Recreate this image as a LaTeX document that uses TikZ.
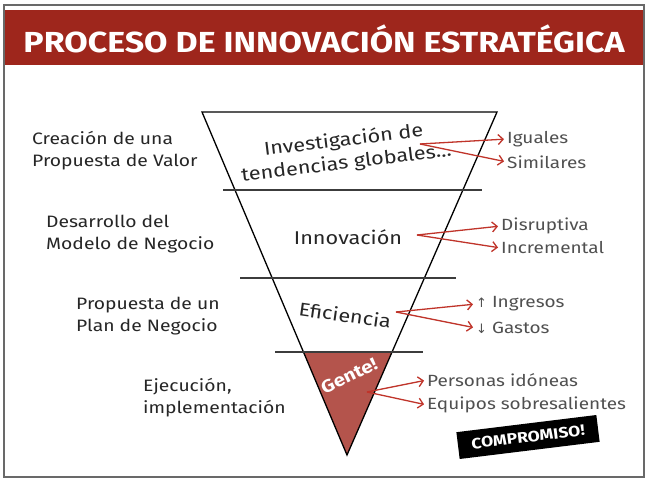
\documentclass[tikz,border=0pt]{standalone}
\usepackage{fontspec}
\setmainfont[FakeStretch=1.17]{Fira Sans}
\newfontfamily\symfont{DejaVu Sans}
\usetikzlibrary{arrows.meta}
\definecolor{banner}{RGB}{158,38,28}
\definecolor{gente}{RGB}{180,84,76}
\definecolor{arrowred}{RGB}{192,52,42}
\definecolor{graytext}{RGB}{80,80,80}
\definecolor{framegray}{RGB}{105,105,105}
\definecolor{sepgray}{RGB}{60,60,60}
\tikzset{
  txt/.style={inner sep=0pt, font=\fontsize{16.5}{22}\selectfont, text=black!85},
  lefttxt/.style={txt, anchor=west, align=left},
  midtxt/.style={inner sep=0pt, align=center, text=black!85, font=\fontsize{18.5}{23}\selectfont},
  righttxt/.style={inner sep=0pt, anchor=west, font=\fontsize{16.2}{22}\selectfont, text=graytext},
  redarrow/.style={draw=arrowred, line width=1.3pt, -{Straight Barb[length=5pt,width=10pt]}, shorten >=3pt},
  seprule/.style={draw=sepgray, line width=1.3pt},
  titletxt/.style={inner sep=0pt, text=white, font=\fontsize{29}{32}\selectfont\bfseries},
  stamp/.style={fill=black, text=white, font=\fontsize{15}{18}\selectfont\bfseries, inner xsep=10pt, inner ysep=6pt, minimum width=141pt, minimum height=27pt}
}
\begin{document}
\begin{tikzpicture}[x=1pt,y=-1pt]
\useasboundingbox (0,0) rectangle (655,484);
\fill[white] (0,0) rectangle (655,484);
\draw[framegray, line width=1.6pt] (4,5) rectangle (644,477);
% banner
\fill[banner] (5,10) rectangle (643,65);
\node[titletxt] (title) at (324,39) {PROCESO DE INNOVACIÓN ESTRATÉGICA};
% triangle
\coordinate (tl) at (202,112);
\coordinate (tr) at (497,112);
\coordinate (bt) at (347,455);
\fill[gente] (303.5,352) -- (392,352) -- (bt) -- cycle;
\draw[line width=1.3pt, line join=miter] (tl) -- (tr) -- (bt) -- cycle;
% separators
\draw[seprule] (223,190) -- (482,190);
\draw[seprule] (240,278) -- (456,278);
\draw[seprule] (275,352) -- (423,352);
% left labels
\node[lefttxt] (l1) at (32,151) {Creación de una\\Propuesta de Valor};
\node[lefttxt] (l2) at (46,234) {Desarrollo del\\Modelo de Negocio};
\node[lefttxt] (l3) at (76,316) {Propuesta de un\\Plan de Negocio};
\node[lefttxt] (l4) at (143,398) {Ejecución,\\implementación};
% center labels
\node[midtxt, rotate=7] (inv) at (345,152) {Investigación de\\tendencias globales...};
\node[midtxt] (inn) at (348,237) {Innovación};
\node[midtxt, rotate=-8] (efi) at (345,315) {Eficiencia};
\node[inner sep=0pt, text=white, rotate=26, font=\fontsize{17.5}{20}\selectfont\bfseries] (gen) at (349,376) {Gente!};
% right labels
\node[righttxt] (ig) at (507,139) {Iguales};
\node[righttxt] (si) at (507,162) {Similares};
\node[righttxt] (di) at (501,226) {Disruptiva};
\node[righttxt] (inc) at (501,248) {Incremental};
\node[righttxt] (ing) at (476,304) {{\symfont\fontsize{13}{16}\selectfont↑} Ingresos};
\node[righttxt] (gas) at (476,328) {{\symfont\fontsize{13}{16}\selectfont↓} Gastos};
\node[righttxt] (per) at (427,380) {Personas idóneas};
\node[righttxt] (equ) at (427,405) {Equipos sobresalientes};
% arrow starts
\coordinate (s1) at (420,144);
\coordinate (s2) at (417,235);
\coordinate (s3) at (396,312);
\coordinate (s4) at (367,392);
\draw[redarrow] (s1) -- (ig.west);
\draw[redarrow] (s1) -- (si.west);
\draw[redarrow] (s2) -- (di.west);
\draw[redarrow] (s2) -- (inc.west);
\draw[redarrow] (s3) -- (ing.west);
\draw[redarrow] (s3) -- (gas.west);
\draw[redarrow] (s4) -- (per.west);
\draw[redarrow] (s4) -- (equ.west);
% stamp
\node[stamp, rotate=7] (comp) at (528,437) {COMPROMISO!};
\end{tikzpicture}
\end{document}
